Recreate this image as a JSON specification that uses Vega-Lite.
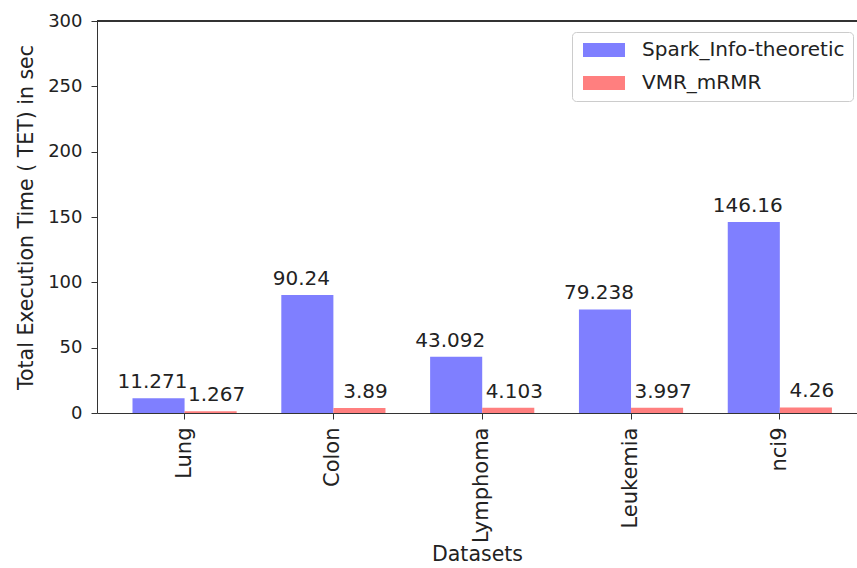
{
  "$schema": "https://vega.github.io/schema/vega-lite/v6.json",
  "autosize": {"type": "none"},
  "padding": {"left": 97, "top": 21, "right": 0, "bottom": 155},
  "width": 760,
  "height": 392,
  "background": "white",
  "config": {
    "font": "DejaVu Sans",
    "view": {"stroke": null},
    "axis": {
      "grid": false,
      "domainColor": "#333",
      "tickColor": "#333",
      "tickSize": 6,
      "labelFontSize": 18,
      "labelColor": "#222",
      "titleFontSize": 20.5,
      "titleFontWeight": "normal",
      "titleColor": "#222"
    }
  },
  "data": {
    "values": [
      {"dataset": "Lung", "method": "Spark_Info-theoretic", "value": 11.271},
      {"dataset": "Lung", "method": "VMR_mRMR", "value": 1.267},
      {"dataset": "Colon", "method": "Spark_Info-theoretic", "value": 90.24},
      {"dataset": "Colon", "method": "VMR_mRMR", "value": 3.89},
      {"dataset": "Lymphoma", "method": "Spark_Info-theoretic", "value": 43.092},
      {"dataset": "Lymphoma", "method": "VMR_mRMR", "value": 4.103},
      {"dataset": "Leukemia", "method": "Spark_Info-theoretic", "value": 79.238},
      {"dataset": "Leukemia", "method": "VMR_mRMR", "value": 3.997},
      {"dataset": "nci9", "method": "Spark_Info-theoretic", "value": 146.16},
      {"dataset": "nci9", "method": "VMR_mRMR", "value": 4.26}
    ]
  },
  "encoding": {
    "x": {
      "field": "dataset",
      "type": "nominal",
      "sort": ["Lung", "Colon", "Lymphoma", "Leukemia", "nci9"],
      "scale": {"paddingInner": 0.3, "paddingOuter": 0.2035, "align": 0.586},
      "axis": {"title": "Datasets", "labelAngle": -90, "labelPadding": 8, "labelFontSize": 21, "labelLimit": 300, "titlePadding": 2}
    },
    "xOffset": {"field": "method", "type": "nominal", "sort": ["Spark_Info-theoretic", "VMR_mRMR"], "scale": {"paddingInner": 0, "paddingOuter": 0}},
    "y": {
      "field": "value",
      "type": "quantitative",
      "scale": {"domain": [0, 300], "nice": false},
      "axis": {"title": "Total Execution Time ( TET) in sec", "values": [0, 50, 100, 150, 200, 250, 300], "labelPadding": 9, "titlePadding": 11, "titleFontSize": 20.5}
    }
  },
  "layer": [
    {
      "mark": {"type": "bar"},
      "encoding": {
        "color": {
          "field": "method",
          "type": "nominal",
          "scale": {"domain": ["Spark_Info-theoretic", "VMR_mRMR"], "range": ["#7f7fff", "#ff7f7f"]},
          "legend": {
            "title": null,
            "orient": "none",
            "legendX": 475,
            "legendY": 11,
            "padding": 8,
            "rowPadding": 13,
            "strokeColor": "#cccccc",
            "fillColor": "white",
            "cornerRadius": 4,
            "labelFontSize": 20,
            "labelColor": "#222",
            "labelLimit": 400,
            "labelOffset": 42,
            "symbolType": "M-1,-1L5,-1L5,1L-1,1Z",
            "symbolSize": 196,
            "symbolStrokeWidth": 0,
            "symbolOpacity": 1
          }
        }
      }
    },
    {
      "transform": [{"filter": "datum.method === 'Spark_Info-theoretic'"}],
      "mark": {"type": "text", "fontSize": 20, "dy": -10, "dx": -6, "baseline": "alphabetic", "color": "#222"},
      "encoding": {"text": {"field": "value", "type": "nominal"}}
    },
    {
      "transform": [{"filter": "datum.method === 'VMR_mRMR'"}],
      "mark": {"type": "text", "fontSize": 20, "dy": -10, "dx": 6, "baseline": "alphabetic", "color": "#222"},
      "encoding": {"text": {"field": "value", "type": "nominal"}}
    },
    {
      "mark": {"type": "rule", "color": "#333"},
      "encoding": {"y": {"datum": 300}, "x": null, "xOffset": null}
    }
  ]
}
